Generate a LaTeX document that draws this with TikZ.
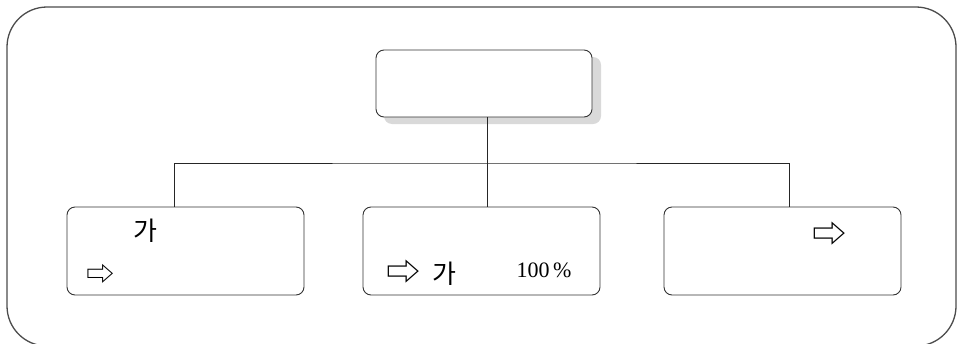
\documentclass[tikz,border=0pt]{standalone}
\usepackage{fontspec}
\setmainfont{Liberation Serif}
\newfontfamily\kofont{Noto Sans CJK KR}
\usetikzlibrary{positioning}

\tikzset{
  caja/.style={draw=black!80, line width=0.9pt, rounded corners=8pt, fill=white,
    minimum width=237pt, minimum height=88pt, inner sep=0pt},
  sombra/.style={fill=black!15, rounded corners=8pt},
  linea/.style={draw=black!85, line width=0.9pt},
  hangul/.style={font=\kofont\fontsize{26}{26}\selectfont, inner sep=0pt},
  flecha/.style={font=\kofont\fontsize{34}{34}\selectfont, inner sep=0pt},
  cifra/.style={font=\fontsize{22}{22}\selectfont, inner sep=0pt}
}

\begin{document}
\begin{tikzpicture}[x=1pt,y=-1pt]

    \useasboundingbox (0,0) rectangle (957,343);

    % marco exterior
    \draw[black!70, line width=1.3pt, rounded corners=40pt] (7,7) rectangle (956,346);

    % caja superior con sombra
    \fill[sombra] (384,57) rectangle (601,124);
    \node[caja, minimum width=216pt, minimum height=67pt] (cajaSup) at (484,83.5) {};

    % cajas inferiores
    \node[caja] (cajaIzq) at (185.5,251) {};
    \node[caja] (cajaMed) at (481.5,251) {};
    \node[caja] (cajaDer) at (782.5,251) {};

    % conectores
    \coordinate (bajIzq) at ([xshift=-11.5pt]cajaIzq.north);
    \coordinate (bajMed) at ([xshift=5.5pt]cajaMed.north);
    \coordinate (bajDer) at ([xshift=6.5pt]cajaDer.north);
    \coordinate (bus) at (bajMed |- 0,163);
    \draw[linea] ([xshift=3pt]cajaSup.south) -- (bus);
    \draw[linea] (bajIzq) |- (bus) -| (bajDer);
    \draw[linea] (bus) -- (bajMed);

    % textos
    \node[hangul] (gaIzq) at (145,231) {가};
    \node[flecha, font=\kofont\fontsize{28}{28}\selectfont] (flIzq) at (100,274) {⇨};
    \node[flecha] (flMed) at (403,272) {⇨};
    \node[hangul] (gaMed) at (444,274) {가};
    \node[cifra] (porc) at (544,270) {100\,\%};
    \node[flecha] (flDer) at (829,234) {⇨};

\end{tikzpicture}
\end{document}
